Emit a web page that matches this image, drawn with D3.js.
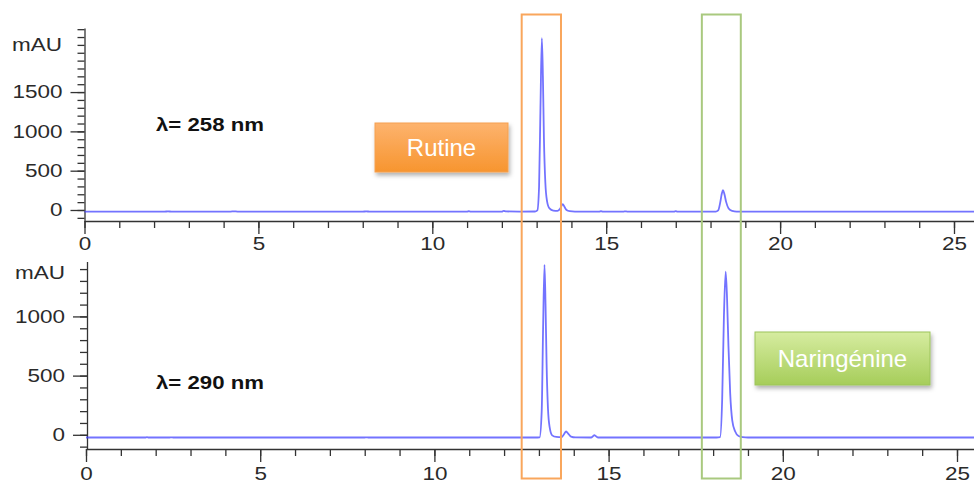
<!DOCTYPE html>
<html><head><meta charset="utf-8">
<script src="https://cdn.jsdelivr.net/npm/d3@7"></script>
<style>body{margin:0;background:#fff}svg{display:block}</style>
</head><body>
<script>
// ---- data (retention time in min, signal in mAU) ----
const trace258 = [[0,-20],[2.3,-20],[2.4,-18],[2.5,-20],[4.2,-20],[4.3,-17],[4.4,-20],[8.0,-20],[8.1,-18],[8.2,-20],
 [11.0,-20],[11.05,-16],[11.1,-20],[12.0,-20],[12.05,-10],[12.12,-18],[12.5,-20],[12.95,-19],[13.02,-5],[13.07,300],
 [13.11,1300],[13.15,2185],[13.18,1700],[13.21,900],[13.25,350],[13.30,110],[13.37,20],[13.48,-8],[13.60,-12],
 [13.68,20],[13.75,75],[13.80,40],[13.86,0],[13.95,-15],[14.1,-20],[14.8,-20],[14.85,-16],[14.9,-20],[15.5,-20],
 [15.55,-17],[15.6,-20],[16.95,-20],[17.0,-14],[17.05,-20],[18.15,-20],[18.22,-5],[18.28,100],[18.32,200],[18.36,254],
 [18.40,200],[18.45,100],[18.52,20],[18.62,-12],[18.75,-20],[25.6,-20]];
const trace290 = [[0,-23],[1.7,-23],[1.75,-20],[1.8,-23],[2.4,-23],[2.45,-21],[2.5,-23],[8.0,-23],[8.05,-21],[8.1,-23],
 [12.9,-23],[13.02,-21],[13.08,200],[13.12,900],[13.16,1436],[13.19,1100],[13.22,600],[13.26,220],[13.31,60],[13.38,-5],
 [13.5,-18],[13.65,-20],[13.72,5],[13.78,28],[13.84,10],[13.92,-15],[14.05,-22],[14.5,-23],[14.55,-12],[14.59,-3],
 [14.64,-13],[14.7,-23],[18.1,-23],[18.2,-20],[18.26,300],[18.31,1000],[18.36,1379],[18.40,1150],[18.44,750],
 [18.49,350],[18.55,120],[18.63,30],[18.73,-10],[18.85,-20],[19.0,-23],[25.6,-23]];
const xMajorTicks = [0,5,10,15,20,25];
const xMinorTicks = d3.range(0,26,1);
const yTopMajor = [0,500,1000,1500];
const yTopMinor = d3.range(-100,2301,100);
const yBotMajor = [0,500,1000];
const yBotMinor = d3.range(-100,1401,100);
const yUnit = "mAU";
const wavelengths = ["λ= 258 nm","λ= 290 nm"];
const compounds = ["Rutine","Naringénine"];
const highlightRanges = [[12.57,13.70],[17.75,18.87]]; // min

const W=974,H=484;
const svg=d3.select("body").append("svg").attr("width",W).attr("height",H);
const defs=svg.append("defs");
const f=defs.append("filter").attr("id","sh").attr("x","-20%").attr("y","-20%").attr("width","140%").attr("height","160%");
f.append("feDropShadow").attr("dx",1.5).attr("dy",3).attr("stdDeviation",2).attr("flood-color","#000").attr("flood-opacity",0.3);
const g1=defs.append("linearGradient").attr("id","gO").attr("x1",0).attr("y1",0).attr("x2",0).attr("y2",1);
g1.append("stop").attr("offset","0%").attr("stop-color","#fdb36e");
g1.append("stop").attr("offset","100%").attr("stop-color","#f7952f");
const g2=defs.append("linearGradient").attr("id","gG").attr("x1",0).attr("y1",0).attr("x2",0).attr("y2",1);
g2.append("stop").attr("offset","0%").attr("stop-color","#d6eca0");
g2.append("stop").attr("offset","100%").attr("stop-color","#a6cd5a");

const font="'Liberation Sans', Arial, sans-serif";

function panel(cfg){
  const x=d3.scaleLinear().domain([0,25.6]).range(cfg.xr);
  const y=d3.scaleLinear().domain(cfg.yd).range(cfg.yr);
  const g=svg.append("g");
  g.append("g").attr("transform",`translate(0,${cfg.yr[0]})`)
    .call(d3.axisBottom(x).tickValues(xMinorTicks).tickSize(7).tickSizeOuter(0).tickFormat(""));
  g.append("g").attr("transform",`translate(0,${cfg.yr[0]})`)
    .call(d3.axisBottom(x).tickValues(xMajorTicks).tickSize(13).tickSizeOuter(0).tickPadding(cfg.xpad))
    .call(a=>a.select(".domain").remove());
  g.append("g").attr("transform",`translate(${cfg.ax},0)`)
    .call(d3.axisLeft(y).tickValues(cfg.yMinor).tickSize(7).tickSizeOuter(0).tickFormat(""));
  g.append("g").attr("transform",`translate(${cfg.ax},0)`)
    .call(d3.axisLeft(y).tickValues(cfg.yMajor).tickSize(14).tickSizeOuter(0).tickPadding(8).tickFormat(d3.format("d")))
    .call(a=>a.select(".domain").remove());
  g.selectAll(".domain,.tick line").attr("stroke","#333").attr("stroke-width",1.3);
  g.selectAll(".tick text").attr("font-family",font).attr("font-size",18.5).attr("fill","#2a2a2a")
    .each(function(){const t=d3.select(this);t.attr("textLength",t.text().length*12.5).attr("lengthAdjust","spacingAndGlyphs");});
  g.append("text").attr("x",cfg.mauX).attr("y",cfg.mauY).attr("text-anchor","end")
    .attr("font-family",font).attr("font-size",18.5).attr("fill","#2a2a2a")
    .attr("textLength",50).attr("lengthAdjust","spacingAndGlyphs").text(yUnit);
  g.append("path").datum(cfg.data).attr("fill","none").attr("stroke","#4444ff").attr("stroke-opacity",0.75)
    .attr("stroke-width",1.8).attr("stroke-linejoin","round")
    .attr("d",d3.line().x(d=>x(d[0])).y(d=>y(d[1])).curve(d3.curveMonotoneX));
  g.append("text").attr("x",156).attr("y",cfg.lamY).attr("font-family",font).attr("font-weight","bold")
    .attr("font-size",17.5).attr("fill","#111").attr("textLength",108).attr("lengthAdjust","spacingAndGlyphs").text(cfg.lam);
  return x;
}
const xTop=panel({xr:[84.5,84.5+25.6*34.78],yd:[-140,2315],yr:[221,28],ax:84.5,xpad:3,
  yMajor:yTopMajor,yMinor:yTopMinor,data:trace258,mauX:62,mauY:51,lam:wavelengths[0],lamY:131});
panel({xr:[86,86+25.6*34.84],yd:[-120,1464],yr:[449,261.5],ax:87,xpad:4.5,
  yMajor:yBotMajor,yMinor:yBotMinor,data:trace290,mauX:65,mauY:279,lam:wavelengths[1],lamY:389});

const rc=["#f9a65c","#a9c97f"];
highlightRanges.forEach((r,i)=>{
  svg.append("rect").attr("x",xTop(r[0])).attr("y",14.5).attr("width",xTop(r[1])-xTop(r[0])).attr("height",464)
    .attr("fill","none").attr("stroke",rc[i]).attr("stroke-width",2);
});
const boxes=[{x:375,y:123,w:133,h:49,fill:"url(#gO)",stroke:"#f5a050"},{x:755,y:332,w:175,h:53,fill:"url(#gG)",stroke:"#9cc45a"}];
boxes.forEach((b,i)=>{
  svg.append("rect").attr("x",b.x).attr("y",b.y).attr("width",b.w).attr("height",b.h).attr("fill",b.fill)
    .attr("stroke",b.stroke).attr("stroke-width",1).attr("filter","url(#sh)");
  svg.append("text").attr("x",b.x+b.w/2).attr("y",b.y+b.h/2+8.5).attr("text-anchor","middle")
    .attr("font-family",font).attr("font-size",24).attr("fill","#ffffff").text(compounds[i]);
});
</script>
</body></html>
